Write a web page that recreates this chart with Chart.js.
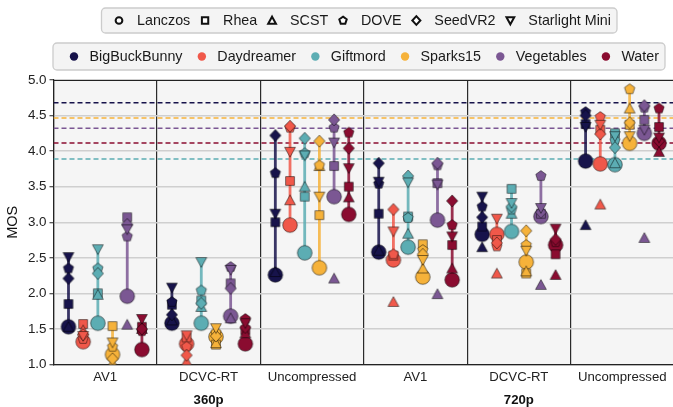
<!DOCTYPE html>
<html>
<head>
<meta charset="utf-8">
<script src="https://cdn.jsdelivr.net/npm/chart.js@4.4.0/dist/chart.umd.min.js"></script>
<style>
html, body { margin: 0; padding: 0; background: #fff; overflow: hidden; }
</style>
</head>
<body>
<canvas id="myChart" width="680" height="407" style="width:680px;height:407px"></canvas>
<script>
// categories
var groups = ['AV1', 'DCVC-RT', 'Uncompressed', 'AV1', 'DCVC-RT', 'Uncompressed'];
var resolutions = ['360p', '720p'];
var videos = ['BigBuckBunny', 'Daydreamer', 'Giftmord', 'Sparks15', 'Vegetables', 'Water'];
var videoColors = ['#17134b', '#f0584a', '#5cadb3', '#f6b23a', '#7b5793', '#8a0c30'];
var methods = ['Lanczos', 'Rhea', 'SCST', 'DOVE', 'SeedVR2', 'Starlight Mini'];
var yTicks = [1.0, 1.5, 2.0, 2.5, 3.0, 3.5, 4.0, 4.5, 5.0];

// MOS, one row per group, one column per video
var lanczos = [
  [1.53, 1.32, 1.58, 1.14, 1.96, 1.21],
  [1.58, 1.29, 1.58, 1.39, 1.68, 1.29],
  [2.26, 2.96, 2.57, 2.36, 3.36, 3.11],
  [2.58, 2.47, 2.65, 2.23, 3.03, 2.19],
  [2.83, 2.83, 2.87, 2.44, 3.08, 2.68],
  [3.86, 3.82, 3.81, 4.11, 4.25, 4.11]
];
var rhea = [
  [1.85, 1.57, 2.00, 1.54, 3.07, 1.53],
  [1.84, 1.38, 1.90, 1.28, 2.14, 1.48],
  [3.00, 3.58, 3.36, 3.10, 3.79, 3.50],
  [3.12, 2.53, 3.08, 2.69, 3.55, 2.68],
  [2.94, 2.75, 3.47, 2.28, 3.12, 2.55],
  [4.38, 4.30, 4.25, 4.37, 4.44, 4.34]
];
var scst = [
  [1.53, 1.48, 1.98, 1.02, 1.56, 1.50],
  [1.62, 1.04, 1.81, 1.30, 1.65, 1.44],
  [2.30, 3.31, 3.50, 3.79, 2.21, 3.35],
  [2.60, 1.88, 2.84, 2.35, 1.99, 2.35],
  [2.65, 2.28, 3.12, 2.31, 2.12, 2.26],
  [2.96, 3.25, 3.83, 4.60, 2.78, 3.99]
];
var dove = [
  [2.35, 1.36, 2.35, 1.25, 2.80, 1.47],
  [1.88, 1.25, 2.04, 1.45, 2.37, 1.64],
  [3.69, 4.33, 3.97, 3.80, 4.33, 4.26],
  [3.54, 2.55, 3.06, 2.61, 3.80, 2.96],
  [3.22, 2.66, 3.18, 2.68, 3.65, 2.72],
  [4.55, 4.48, 4.15, 4.87, 4.61, 4.60]
];
var seedvr2 = [
  [2.21, 1.42, 2.28, 1.08, 2.97, 1.50],
  [1.70, 1.13, 1.86, 1.40, 2.07, 1.52],
  [4.22, 4.35, 4.18, 4.14, 4.44, 4.04],
  [3.83, 3.18, 3.65, 2.55, 3.83, 3.30],
  [3.07, 2.71, 3.22, 2.88, 3.14, 2.76],
  [4.50, 4.24, 4.05, 4.40, 4.64, 4.14]
];
var starlight = [
  [2.51, 1.40, 2.62, 1.31, 2.90, 1.64],
  [2.08, 1.41, 2.44, 1.51, 2.33, 1.58],
  [3.12, 3.99, 3.94, 3.36, 4.12, 3.76],
  [3.57, 2.87, 3.56, 2.47, 3.53, 2.80],
  [3.36, 3.05, 3.27, 2.60, 3.20, 2.91],
  [4.34, 4.37, 4.21, 4.21, 4.30, 4.19]
];
// reference (source) MOS per video, dashed lines
var references = [4.68, null, 3.89, 4.465, 4.32, 4.115];

var FONT = '"Liberation Sans", Arial, Helvetica, sans-serif';
Chart.defaults.font.family = FONT;

var shapes = ['circle', 'square', 'triangle', 'pentagon', 'diamond', 'triangleDown'];
var methodValues = [lanczos, rhea, scst, dove, seedvr2, starlight];
var offsets = videos.map(function (v, i) { return (i - 2.5) * 0.142; });

function rgba(hex, a) {
  var n = parseInt(hex.slice(1), 16);
  return 'rgba(' + (n >> 16) + ',' + ((n >> 8) & 255) + ',' + (n & 255) + ',' + a + ')';
}

function shapePath(g, shape, k) {
  g.beginPath();
  if (shape === 'circle') {
    g.arc(0, 0, 7.3 * k, 0, Math.PI * 2);
  } else if (shape === 'square') {
    g.rect(-4.4 * k, -4.4 * k, 8.8 * k, 8.8 * k);
  } else if (shape === 'triangle') {
    g.moveTo(0, -5.3 * k); g.lineTo(5.4 * k, 4.5 * k); g.lineTo(-5.4 * k, 4.5 * k);
  } else if (shape === 'triangleDown') {
    g.moveTo(0, 5.3 * k); g.lineTo(5.4 * k, -4.5 * k); g.lineTo(-5.4 * k, -4.5 * k);
  } else if (shape === 'pentagon') {
    for (var i = 0; i < 5; i++) {
      var a = -Math.PI / 2 + i * Math.PI * 2 / 5;
      g.lineTo(Math.cos(a) * 5.4 * k, Math.sin(a) * 5.4 * k);
    }
  } else if (shape === 'diamond') {
    g.moveTo(0, -6 * k); g.lineTo(5.6 * k, 0); g.lineTo(0, 6 * k); g.lineTo(-5.6 * k, 0);
  }
  g.closePath();
}

function makeMarker(shape, color) {
  var c = document.createElement('canvas');
  c.width = 20; c.height = 20;
  var g = c.getContext('2d');
  g.translate(10, 10);
  shapePath(g, shape, 1);
  g.fillStyle = color;
  g.fill();
  g.lineWidth = 1;
  g.strokeStyle = 'rgba(0,0,0,0.5)';
  g.stroke();
  return c;
}

var datasets = [];

// dashed reference lines
references.forEach(function (r, v) {
  if (r === null) return;
  datasets.push({
    type: 'line',
    data: [{x: -0.5, y: r}, {x: 5.5, y: r}],
    borderColor: videoColors[v],
    borderWidth: 1.5,
    borderDash: [5, 3],
    pointRadius: 0,
    order: 30
  });
});

// vertical range lines (all methods except SCST)
videos.forEach(function (name, v) {
  var pts = [];
  groups.forEach(function (gName, g) {
    var vals = [lanczos[g][v], rhea[g][v], dove[g][v], seedvr2[g][v], starlight[g][v]];
    var x = g + offsets[v];
    pts.push({x: x, y: Math.min.apply(null, vals)});
    pts.push({x: x, y: Math.max.apply(null, vals)});
    pts.push({x: x, y: null});
  });
  datasets.push({
    type: 'line',
    data: pts,
    borderColor: rgba(videoColors[v], 0.85),
    borderWidth: 2.8,
    pointRadius: 0,
    spanGaps: false,
    order: 20
  });
});

// markers, one dataset per method
methodValues.forEach(function (values, m) {
  var imgs = videoColors.map(function (c) { return makeMarker(shapes[m], c); });
  var pts = [], styles = [];
  values.forEach(function (row, g) {
    row.forEach(function (y, v) {
      pts.push({x: g + offsets[v], y: y});
      styles.push(imgs[v]);
    });
  });
  datasets.push({
    type: 'scatter',
    label: methods[m],
    data: pts,
    pointStyle: styles,
    pointRadius: 5,
    order: 15 - m
  });
});

function roundRect(g, x, y, w, h, r) {
  g.beginPath();
  g.moveTo(x + r, y);
  g.arcTo(x + w, y, x + w, y + h, r);
  g.arcTo(x + w, y + h, x, y + h, r);
  g.arcTo(x, y + h, x, y, r);
  g.arcTo(x, y, x + w, y, r);
  g.closePath();
}

function legendBox(g, x0, x1, y0, y1, names, leftPad, markGap, rightPad, drawMark) {
  roundRect(g, x0, y0, x1 - x0, y1 - y0, 4);
  g.fillStyle = '#f4f4f4';
  g.fill();
  g.lineWidth = 1.3;
  g.strokeStyle = '#cccccc';
  g.stroke();
  var widths = names.map(function (n) { return g.measureText(n).width; });
  var used = widths.reduce(function (a, b) { return a + b; }, 0) + names.length * markGap;
  var gap = (x1 - x0 - leftPad - rightPad - used) / (names.length - 1);
  var x = x0 + leftPad, yc = (y0 + y1) / 2;
  names.forEach(function (n, i) {
    drawMark(i, x, yc);
    g.fillStyle = '#1a1a1a';
    g.fillText(n, x + markGap, yc + 0.5);
    x += markGap + widths[i] + gap;
  });
}

var plotPlugin = {
  id: 'plotDecor',
  beforeDraw: function (chart) {
    var a = chart.chartArea, g = chart.ctx;
    g.save();
    g.fillStyle = '#f5f5f5';
    g.fillRect(a.left, a.top, a.right - a.left, a.bottom - a.top);
    g.restore();
  },
  beforeDatasetsDraw: function (chart) {
    var a = chart.chartArea, g = chart.ctx;
    g.save();
    g.strokeStyle = '#222';
    g.lineWidth = 1.2;
    g.beginPath();
    g.moveTo(a.left, Math.round(a.top) + 0.5);
    g.lineTo(a.right, Math.round(a.top) + 0.5);
    g.stroke();
    g.restore();
  },
  afterDraw: function (chart) {
    var g = chart.ctx;
    g.save();
    g.font = '14.3px ' + FONT;
    g.textBaseline = 'middle';
    g.textAlign = 'left';
    legendBox(g, 101.5, 617, 8, 33, methods, 17.5, 18, 6, function (i, x, y) {
      g.save();
      g.translate(x, y);
      shapePath(g, shapes[i], i === 0 ? 0.46 : 0.72);
      g.fillStyle = '#fff';
      g.fill();
      g.lineWidth = 2;
      g.strokeStyle = '#111';
      g.stroke();
      g.restore();
    });
    legendBox(g, 53, 665, 43, 70, videos, 21, 15.5, 6, function (i, x, y) {
      g.beginPath();
      g.arc(x, y, 4.2, 0, Math.PI * 2);
      g.fillStyle = videoColors[i];
      g.fill();
    });
    g.restore();
  }
};

var ctx = document.getElementById('myChart').getContext('2d');
var myChart = new Chart(ctx, {
  type: 'scatter',
  data: { datasets: datasets },
  options: {
    responsive: false,
    animation: false,
    events: [],
    layout: { padding: { top: 80, right: 2.5, bottom: 0, left: 0 } },
    plugins: {
      legend: { display: false },
      tooltip: { enabled: false }
    },
    scales: {
      x: {
        type: 'linear',
        min: -0.5,
        max: 5.5,
        weight: 0,
        afterBuildTicks: function (s) {
          var t = [];
          for (var i = 0; i <= 12; i++) t.push({value: -0.5 + i * 0.5});
          s.ticks = t;
        },
        afterFit: function (s) { s.height = 21; },
        grid: {
          color: function (c) {
            return (c.tick && Math.abs(c.tick.value % 1) === 0.5) ? '#2b2b2b' : 'rgba(0,0,0,0)';
          },
          lineWidth: 1.2,
          drawTicks: false
        },
        border: { display: true, color: '#222', width: 1.2 },
        ticks: {
          padding: 5,
          autoSkip: false,
          maxRotation: 0,
          color: '#222',
          font: { size: 13.2 },
          callback: function (v) { return Number.isInteger(v) ? groups[v] : ''; }
        }
      },
      x2: {
        type: 'linear',
        position: 'bottom',
        min: -0.5,
        max: 5.5,
        weight: 1,
        afterBuildTicks: function (s) { s.ticks = [{value: 1}, {value: 4}]; },
        afterFit: function (s) { s.height = 21.5; },
        grid: { display: false, drawTicks: false },
        border: { display: false },
        ticks: {
          padding: 7,
          autoSkip: false,
          maxRotation: 0,
          color: '#111',
          font: { size: 13.2, weight: 'bold' },
          callback: function (v) { return v === 1 ? resolutions[0] : resolutions[1]; }
        }
      },
      y: {
        min: 1,
        max: 5,
        afterBuildTicks: function (s) { s.ticks = yTicks.map(function (v) { return {value: v}; }); },
        afterFit: function (s) { s.width = 53.5; },
        grid: {
          color: '#cfcfcf',
          lineWidth: 1.5,
          drawTicks: true,
          tickLength: 4,
          tickColor: '#222',
          tickWidth: 1
        },
        border: { display: true, color: '#222', width: 1.2 },
        ticks: {
          padding: 3,
          color: '#222',
          font: { size: 13.4 },
          callback: function (v) { return v.toFixed(1); }
        },
        title: {
          display: true,
          text: 'MOS',
          color: '#111',
          font: { size: 14.5 },
          padding: { top: 4, bottom: 0 }
        }
      }
    }
  },
  plugins: [plotPlugin]
});
</script>
</body>
</html>
